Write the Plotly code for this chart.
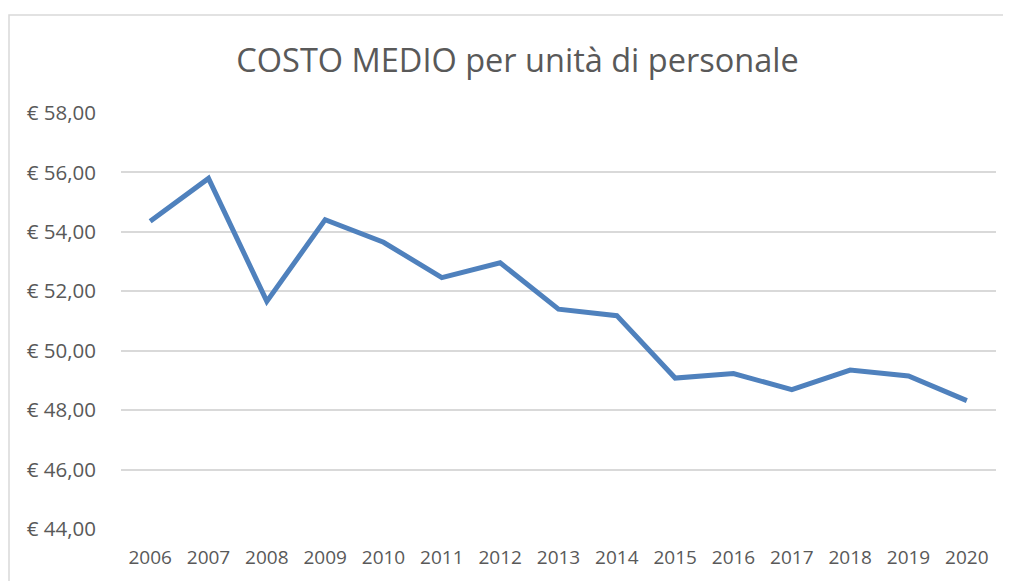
import plotly.graph_objects as go

years = ["2006", "2007", "2008", "2009", "2010", "2011", "2012", "2013",
         "2014", "2015", "2016", "2017", "2018", "2019", "2020"]
costs = [54.36, 55.80, 51.66, 54.41, 53.65, 52.46, 52.96, 51.40,
         51.18, 49.08, 49.23, 48.69, 49.35, 49.15, 48.32]
y_ticks = [44, 46, 48, 50, 52, 54, 56, 58]
y_tick_labels = ["€ 44,00", "€ 46,00", "€ 48,00", "€ 50,00",
                 "€ 52,00", "€ 54,00", "€ 56,00", "€ 58,00"]
title_text = "COSTO MEDIO per unità di personale"

# the page body has an 8px margin, so the figure sits at (8, 8) in the window
OFF = 8
W, H = 1011 - OFF, 581 - OFF
ml, mt = 121 - OFF, 113 - OFF
mr = W - (996 - OFF)
mb = H - (529 - OFF)
pw, ph = W - ml - mr, H - mt - mb

def sx(px):  # screen x -> paper x
    return (px - OFF - ml) / pw

def sy(py):  # screen y -> paper y
    return (H - mb - (py - OFF)) / ph

fig = go.Figure()
fig.add_trace(go.Scatter(
    x=years, y=costs, mode="lines",
    line=dict(color="#4f81bd", width=5),
    hoverinfo="x+y",
))

font_family = "Open Sans, Lato, DejaVu Sans, sans-serif"

fig.update_layout(
    width=W, height=H,
    margin=dict(l=ml, r=mr, t=mt, b=mb, autoexpand=False),
    paper_bgcolor="white", plot_bgcolor="white",
    showlegend=False,
    font=dict(family=font_family, color="#595959"),
    title=dict(text=title_text, x=sx(517.5), xanchor="center", xref="paper",
               y=1 - (61 - OFF) / H, yanchor="middle",
               font=dict(size=32.5, color="#595959", family=font_family)),
    xaxis=dict(
        type="category", range=[-0.5, len(years) - 0.5],
        showgrid=False, zeroline=False, showline=False, automargin=False,
        ticks="outside", ticklen=11, tickcolor="rgba(0,0,0,0)",
        tickfont=dict(size=19, color="#595959"),
        fixedrange=True,
    ),
    yaxis=dict(
        range=[44, 58], tickvals=y_ticks, ticktext=y_tick_labels,
        showgrid=True, gridcolor="#d9d9d9", gridwidth=1.5,
        zeroline=False, showline=False, automargin=False,
        ticks="outside", ticklen=20, tickcolor="rgba(0,0,0,0)",
        tickfont=dict(size=20.5, color="#595959"),
        fixedrange=True,
    ),
)

# chart-area border (light grey frame, cropped at right/bottom)
fig.add_shape(type="rect", xref="paper", yref="paper",
              x0=sx(9), x1=sx(1011 + 20),
              y0=sy(581 + 20), y1=sy(15),
              line=dict(color="#d9d9d9", width=1.5),
              fillcolor="rgba(0,0,0,0)", layer="below")

fig.write_html("out.html")
